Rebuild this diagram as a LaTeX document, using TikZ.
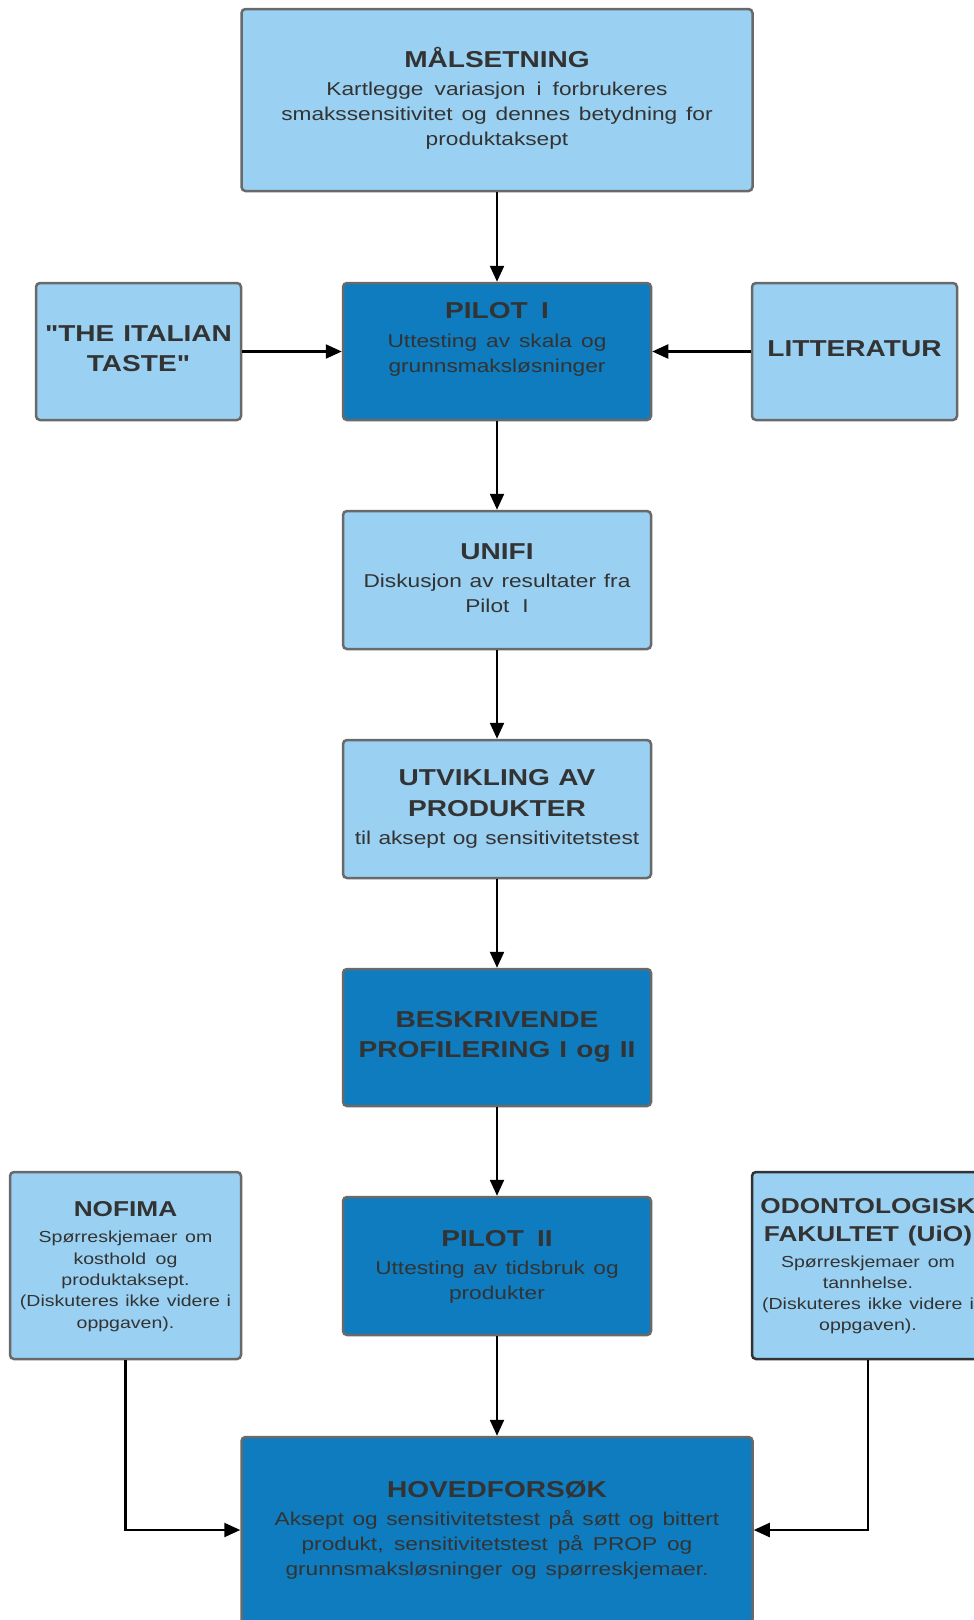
\documentclass[tikz,border=0pt]{standalone}
\usepackage{fontspec}
\setmainfont[FakeStretch=1.22]{Liberation Sans}
\newfontfamily\qf[FakeStretch=1.22]{Liberation Sans}
\usetikzlibrary{arrows.meta}
\definecolor{lb}{RGB}{154,209,242}
\definecolor{db}{RGB}{14,124,190}
\definecolor{bd}{RGB}{105,105,105}
\definecolor{bdk}{RGB}{50,50,50}
\definecolor{tx}{RGB}{51,51,51}
\newcommand\ttl[1]{{\fontsize{23}{30}\selectfont\bfseries\spaceskip=8.5pt plus 1pt minus 1pt #1\par}}
\newcommand\bdy[1]{{\fontsize{18.6}{25}\selectfont\spaceskip=7pt plus 1pt minus 1pt #1\par}}
\newcommand\sttl[1]{{\fontsize{21.5}{28}\selectfont\bfseries\spaceskip=8pt plus 1pt minus 1pt #1\par}}
\newcommand\sbdy[1]{{\fontsize{16}{21.3}\selectfont\spaceskip=6pt plus 1pt minus 1pt #1\par}}
\newcommand\sq{{\qf\bfseries "}}
\begin{document}
\begin{tikzpicture}[x=1pt,y=-1pt,
  box/.style={draw=bd, line width=2.5pt, rounded corners=4pt, inner sep=0pt},
  lbox/.style={box, fill=lb},
  dbox/.style={box, fill=db},
  txt/.style={text=tx, align=center, inner sep=0pt},
  conn/.style={line width=2.3pt, -{Triangle[length=16pt,width=14pt]}}]
\useasboundingbox (0,0) rectangle (974,1620);
\clip (0,0) rectangle (974,1620);
\fill[white] (0,0) rectangle (974,1620);

% boxes
\node[lbox, minimum width=511, minimum height=182] (mal) at (497,100) {};
\node[dbox, minimum width=308, minimum height=137] (p1) at (497,351.5) {};
\node[lbox, minimum width=205, minimum height=137] (ita) at (138.5,351.5) {};
\node[lbox, minimum width=205, minimum height=137] (lit) at (854.5,351.5) {};
\node[lbox, minimum width=308, minimum height=138] (uni) at (497,580) {};
\node[lbox, minimum width=308, minimum height=138] (utv) at (497,809) {};
\node[dbox, minimum width=308, minimum height=137] (bes) at (497,1037.5) {};
\node[dbox, minimum width=308, minimum height=138] (p2) at (497,1266) {};
\node[lbox, minimum width=231, minimum height=187] (nof) at (125.5,1265.5) {};
\node[lbox, draw=bdk, minimum width=232, minimum height=187] (odo) at (868,1265.5) {};
\node[dbox, minimum width=511, minimum height=186] (hov) at (497,1530) {};

% texts
\node[txt, text width=505] (malT) at (497,98) {\ttl{MÅLSETNING}\vskip3pt\bdy{Kartlegge variasjon i forbrukeres\\smakssensitivitet og dennes betydning for\\produktaksept}};
\node[txt, text width=300] (p1T) at (497,339) {\ttl{PILOT I}\vskip4pt\bdy{Uttesting av skala og\\grunnsmaksløsninger}};
\node[txt, text width=205] (itaT) at (138.5,349) {\ttl{\sq THE ITALIAN\\TASTE\sq}};
\node[txt, text width=205] (litT) at (854.5,349) {\ttl{LITTERATUR}};
\node[txt, text width=300] (uniT) at (497,578.5) {\ttl{UNIFI}\vskip3pt\bdy{Diskusjon av resultater fra\\Pilot I}};
\node[txt, text width=300] (utvT) at (497,808.5) {{\fontsize{23}{31}\selectfont\bfseries\spaceskip=8.5pt UTVIKLING AV\\PRODUKTER\par}\vskip3pt\bdy{til aksept og sensitivitetstest}};
\node[txt, text width=300] (besT) at (497,1037) {\ttl{BESKRIVENDE\\PROFILERING I og II}};
\node[txt, text width=300] (p2T) at (497,1266.5) {\ttl{PILOT II}\vskip3pt\bdy{Uttesting av tidsbruk og\\produkter}};
\node[txt, text width=240] (nofT) at (125.5,1266.5) {\sttl{NOFIMA}\vskip5pt\sbdy{Spørreskjemaer om\\kosthold og\\produktaksept.\\(Diskuteres ikke videre i\\oppgaven).}};
\node[txt, text width=250] (odoT) at (868,1266.5) {\sttl{ODONTOLOGISK\\FAKULTET (UiO)}\vskip4pt\sbdy{Spørreskjemaer om\\tannhelse.\\(Diskuteres ikke videre i\\oppgaven).}};
\node[txt, text width=505] (hovT) at (497,1530.5) {\ttl{HOVEDFORSØK}\vskip3pt\bdy{Aksept og sensitivitetstest på søtt og bittert\\produkt, sensitivitetstest på PROP og\\grunnsmaksløsninger og spørreskjemaer.}};

% connectors
\draw[conn] (mal) -- (p1);
\draw[conn] (ita) -- (p1);
\draw[conn] (lit) -- (p1);
\draw[conn] (p1) -- (uni);
\draw[conn] (uni) -- (utv);
\draw[conn] (utv) -- (bes);
\draw[conn] (bes) -- (p2);
\draw[conn] (p2) -- (hov);
\draw[conn] (nof.south) |- (hov.west);
\draw[conn] (odo.south) |- (hov.east);
\end{tikzpicture}
\end{document}
